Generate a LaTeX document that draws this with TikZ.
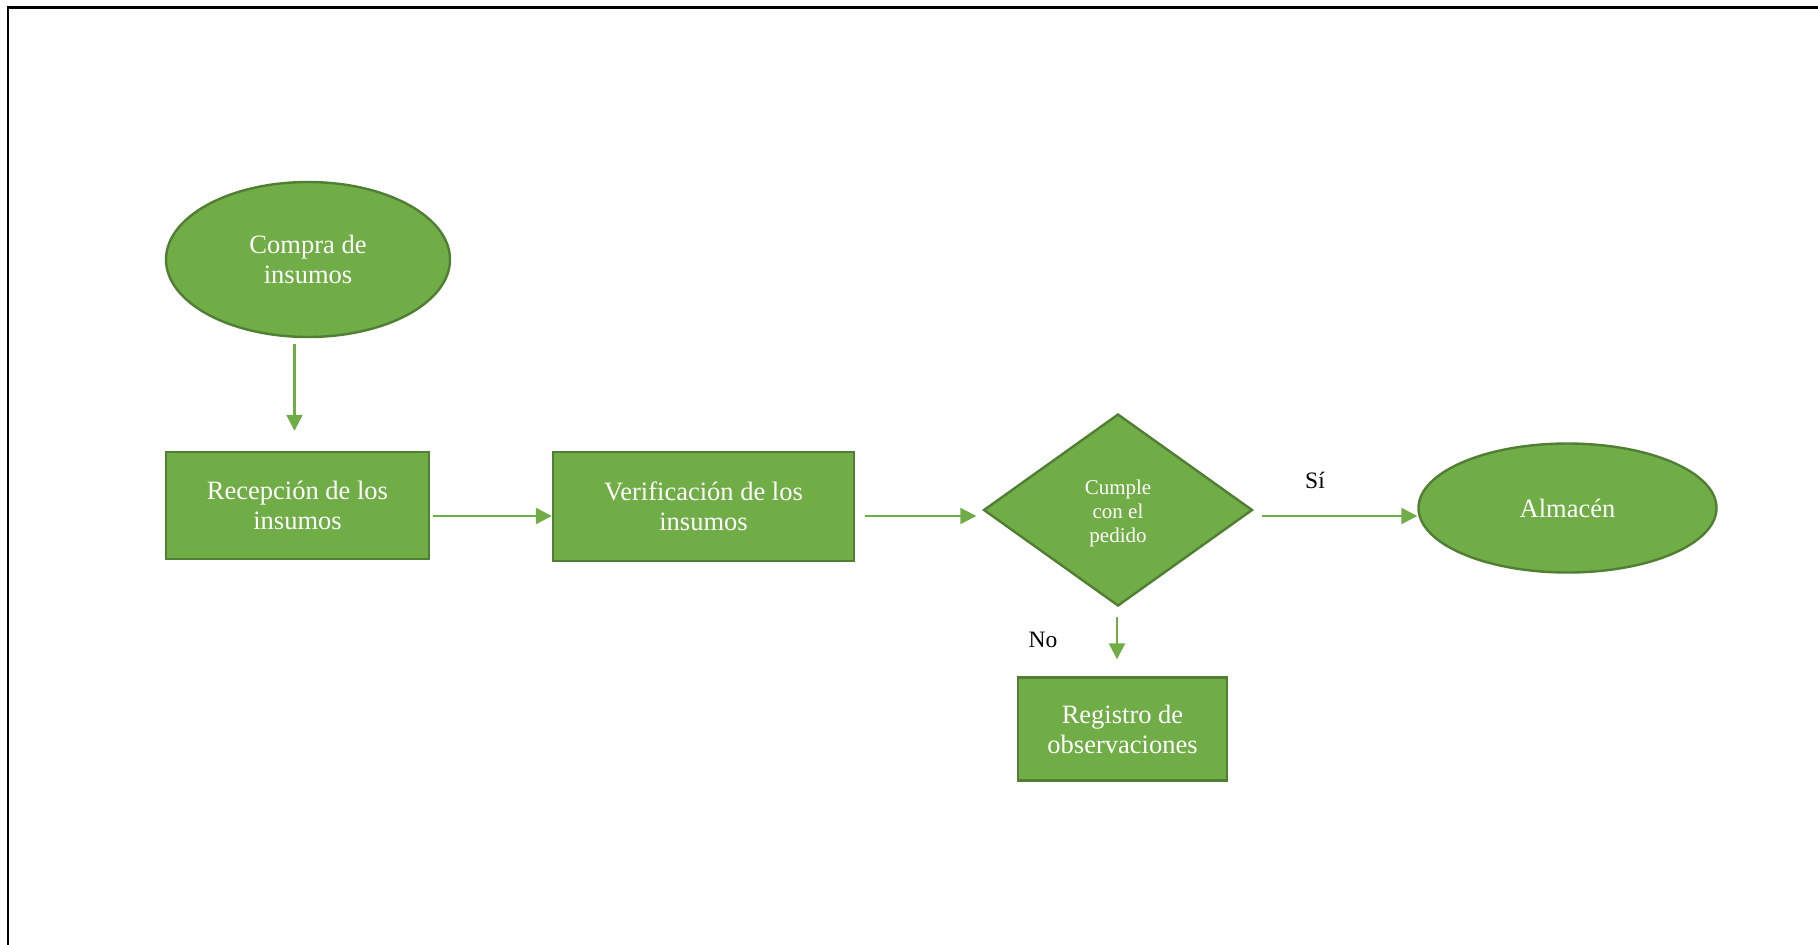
\documentclass[tikz,border=0pt]{standalone}
\usepackage{fontspec}
\setmainfont{Liberation Serif}
\usetikzlibrary{shapes.geometric,arrows.meta,calc}
\definecolor{boxfill}{HTML}{70AD47}
\definecolor{boxline}{HTML}{507E32}
\definecolor{flow}{HTML}{70AD47}

\begin{document}
\begin{tikzpicture}[x=0.5pt,y=-0.5pt,
  shapebase/.style={draw=boxline, line width=1.2pt, fill=boxfill, text=white,
    align=center, inner sep=0pt, font=\fontsize{13.25}{15}\selectfont},
  procbox/.style={shapebase, rectangle},
  termbox/.style={shapebase, ellipse},
  decbox/.style={shapebase, diamond, font=\fontsize{10.5}{12}\selectfont},
  flowarrow/.style={draw=flow, line width=1.2pt, -{Triangle[length=8pt,width=8pt]}},
  lbl/.style={text=black, inner sep=0pt, font=\fontsize{11.75}{14}\selectfont}]
\clip (0,0) rectangle (1818,944);
\useasboundingbox (0,0) rectangle (1818,944);

% page frame
\draw[line width=1.4pt] (8,7.5) rectangle (1840,970);

% shapes
\node[termbox, minimum width=142pt, minimum height=77.5pt] (compra) at (308,259.5) {Compra de\\insumos};
\node[procbox, minimum width=131.5pt, minimum height=53.5pt] (recep) at (297.5,505.5) {Recepción de los\\insumos};
\node[procbox, minimum width=150.5pt, minimum height=54.5pt] (verif) at (703.5,506.5) {Verificación de los\\insumos};
\node[decbox, minimum width=134.5pt, minimum height=96pt] (dec) at (1118,510) {\rule{0pt}{11pt}Cumple\\con el\\pedido};
\node[termbox, minimum width=149pt, minimum height=64.5pt] (store) at (1567.5,508) {Almacén};
\node[procbox, minimum width=104.5pt, minimum height=51.5pt] (reg) at (1122.5,729) {Registro de\\observaciones};

% connectors
\coordinate (row) at (0,516);
\draw[flowarrow] ($(recep.north |- compra.south)+(-3,6)$) -- ($(recep.north)+(-3,-20)$);
\draw[flowarrow] ($(recep.east |- row)+(3,0)$) -- (verif.west |- row);
\draw[flowarrow] ($(verif.east |- row)+(10,0)$) -- ($(dec.west |- row)+(-6,0)$);
\draw[flowarrow] ($(dec.east |- row)+(8,0)$) -- (store.west |- row);
\draw[flowarrow] ($(dec.south)+(-1,10)$) -- ($(reg.north -| dec.south)+(-1,-17)$);

% branch labels
\node[lbl] (si) at (1315,480) {Sí};
\node[lbl] (no) at (1043,639.5) {No};
\end{tikzpicture}
\end{document}
